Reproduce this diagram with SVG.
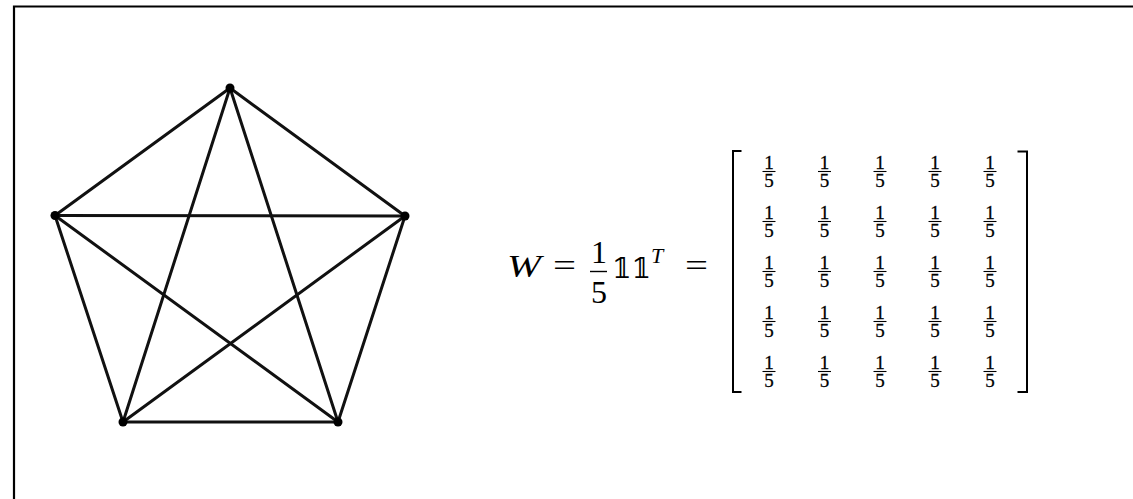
<svg xmlns="http://www.w3.org/2000/svg" width="1133" height="499" viewBox="0 0 1133 499">
<style>
.node{fill:#000}
.bar{stroke:#000;stroke-width:1.1}
</style>
<defs>
<g id="frac" font-family="Liberation Serif, DejaVu Serif, serif" font-size="19" fill="#000" stroke="#000" stroke-width="0.3" text-anchor="middle">
<text x="0" y="168.5">1</text>
<line class="bar" x1="-6.5" y1="171.5" x2="6.5" y2="171.5"/>
<text x="0" y="186.5">5</text>
</g>
<g id="row">
<use href="#frac" x="769"/>
<use href="#frac" x="824.5"/>
<use href="#frac" x="880"/>
<use href="#frac" x="935"/>
<use href="#frac" x="990"/>
</g>
</defs>
<rect width="1133" height="499" fill="#fff"/>
<path d="M14 499 V6.5 H1133" stroke="#000" stroke-width="2.2" fill="none"/>
<g id="connectors" stroke="#111" stroke-width="3" stroke-linecap="round" fill="none">
<line x1="230" y1="88" x2="55" y2="215.5"/>
<line x1="230" y1="88" x2="405" y2="216"/>
<line x1="230" y1="88" x2="123" y2="422"/>
<line x1="230" y1="88" x2="338" y2="422"/>
<line x1="55" y1="215.5" x2="405" y2="216"/>
<line x1="55" y1="215.5" x2="123" y2="422"/>
<line x1="55" y1="215.5" x2="338" y2="422"/>
<line x1="405" y1="216" x2="123" y2="422"/>
<line x1="405" y1="216" x2="338" y2="422"/>
<line x1="123" y1="422" x2="338" y2="422"/>
</g>
<g id="node-top"><circle class="node" cx="230" cy="88" r="4.5"/></g>
<g id="node-left"><circle class="node" cx="55" cy="215.5" r="4.5"/></g>
<g id="node-right"><circle class="node" cx="405" cy="216" r="4.5"/></g>
<g id="node-bottom-left"><circle class="node" cx="123" cy="422" r="4.5"/></g>
<g id="node-bottom-right"><circle class="node" cx="338" cy="422" r="4.5"/></g>
<g id="equation" font-family="Liberation Serif, DejaVu Serif, serif" font-size="32" fill="#000">
<text x="507" y="277" font-style="italic" textLength="34" lengthAdjust="spacingAndGlyphs">W</text>
<text x="553" y="276" textLength="23" lengthAdjust="spacingAndGlyphs">=</text>
<text x="599" y="263" text-anchor="middle">1</text>
<line x1="590" y1="271.5" x2="607" y2="271.5" stroke="#000" stroke-width="1.4"/>
<text x="599" y="303" text-anchor="middle">5</text>
<text x="612" y="278" font-family="DejaVu Serif, serif" font-size="28">𝟙𝟙</text>
<text x="651" y="263" font-style="italic" font-size="22">T</text>
<text x="685" y="276" textLength="23" lengthAdjust="spacingAndGlyphs">=</text>
</g>
<g id="matrix">
<path d="M741.5 151 H733 V392 H741.5" stroke="#000" stroke-width="2" fill="none"/>
<path d="M1017.5 151.5 H1027 V392 H1017.5" stroke="#000" stroke-width="2" fill="none"/>
<use href="#row" y="0"/>
<use href="#row" y="50"/>
<use href="#row" y="100"/>
<use href="#row" y="150"/>
<use href="#row" y="200"/>
</g>
</svg>
